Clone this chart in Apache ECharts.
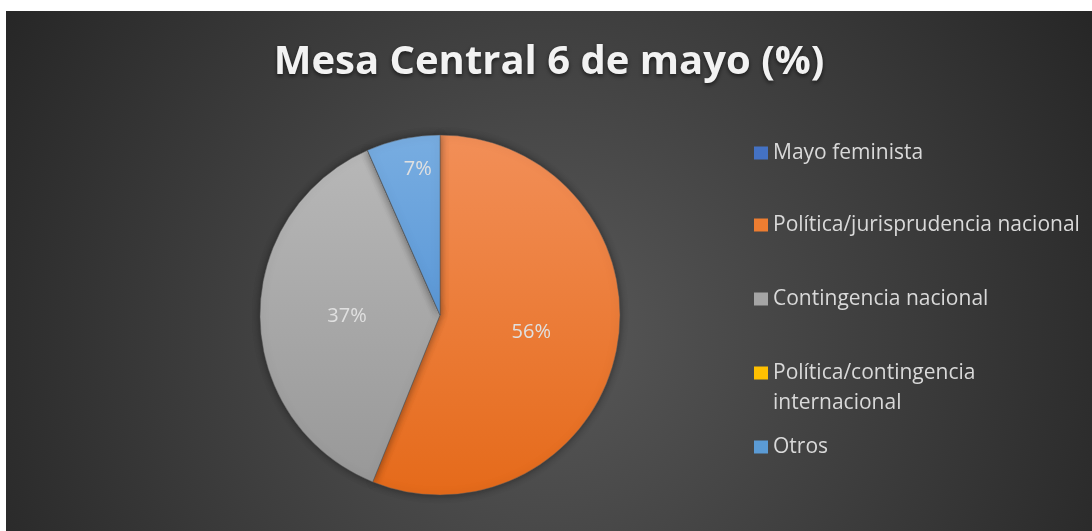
<!DOCTYPE html>
<html>
<head>
<meta charset="utf-8">
<script src="https://cdn.jsdelivr.net/npm/echarts@6/dist/echarts.min.js"></script>
<style>
  html, body { margin: 0; padding: 0; background: #fff; }
  #chart { position: absolute; left: 6px; top: 11px; width: 1086px; height: 520px; }
</style>
</head>
<body>
<div id="chart"></div>
<script>
// datos (porcentaje aprox.)
var categories = ['Mayo feminista', 'Política/jurisprudencia nacional', 'Contingencia nacional', 'Política/contingencia internacional', 'Otros'];
var values = [0, 56.1, 37.3, 0, 6.6];
// la primera linea vacia deja el icono alineado con "Política/contingencia"
var legendLabels = ['Mayo feminista', 'Política/jurisprudencia nacional', 'Contingencia nacional', '\nPolítica/contingencia\ninternacional', 'Otros'];

// colores tipo office, con degradado vertical sobre la torta
function grad(top, bottom) {
  return {
    type: 'linear', global: true,
    x: 0, y: 124, x2: 0, y2: 484,
    colorStops: [{ offset: 0, color: top }, { offset: 1, color: bottom }]
  };
}
var colors = [
  grad('#5A86D0', '#3A64B5'),
  grad('#F28F58', '#E56A1A'),
  grad('#B9B9B9', '#979797'),
  grad('#FFCB33', '#F2B600'),
  grad('#78ADE1', '#3F84CE')
];
var legendColors = ['#4472C4', '#ED7D31', '#A5A5A5', '#FFC000', '#5B9BD5'];
var legendTops = [127, 199, 273, 317, 421];

var chart = echarts.init(document.getElementById('chart'));

var legends = categories.map(function (name, i) {
  return {
    data: [{ name: name, itemStyle: { color: legendColors[i], borderWidth: 0 } }],
    orient: 'vertical',
    left: 748,
    top: legendTops[i],
    padding: 0,
    icon: 'rect',
    itemWidth: 14,
    itemHeight: 13,
    itemStyle: { borderWidth: 0 },
    selectedMode: false,
    formatter: function () { return legendLabels[i]; },
    textStyle: {
      color: '#d9d9d9',
      fontFamily: 'Open Sans',
      fontSize: 21,
      lineHeight: 30
    }
  };
});

chart.setOption({
  backgroundColor: {
    type: 'radial', x: 0.5, y: 0.62, r: 1.25,
    colorStops: [{ offset: 0, color: '#585858' }, { offset: 1, color: '#252525' }]
  },
  title: {
    text: 'Mesa Central 6 de mayo (%)',
    left: 'center',
    top: 27,
    textStyle: {
      color: '#f2f2f2',
      fontFamily: 'Open Sans',
      fontWeight: 'bold',
      fontSize: 40,
      textShadowColor: 'rgba(0,0,0,0.6)',
      textShadowBlur: 4,
      textShadowOffsetY: 2
    }
  },
  legend: legends,
  series: [{
    type: 'pie',
    center: [434, 304],
    radius: 180,
    startAngle: 90,
    clockwise: true,
    animation: false,
    silent: true,
    data: categories.map(function (name, i) {
      var d = { name: name, value: values[i], itemStyle: { color: colors[i] } };
      if (i === 4) d.label = { offset: [-3, -55] };
      return d;
    }),
    itemStyle: {
      borderColor: 'rgba(90,90,90,0.8)',
      borderWidth: 0.6,
      shadowColor: 'rgba(0,0,0,0.45)',
      shadowBlur: 8
    },
    label: {
      show: true,
      position: 'inside',
      color: '#e0e0e0',
      fontFamily: 'Open Sans',
      fontSize: 20,
      formatter: function (p) {
        if (p.value === 0) return '';
        return Math.round(p.value) + '%';
      }
    },
    labelLine: { show: false }
  }]
});
</script>
</body>
</html>
